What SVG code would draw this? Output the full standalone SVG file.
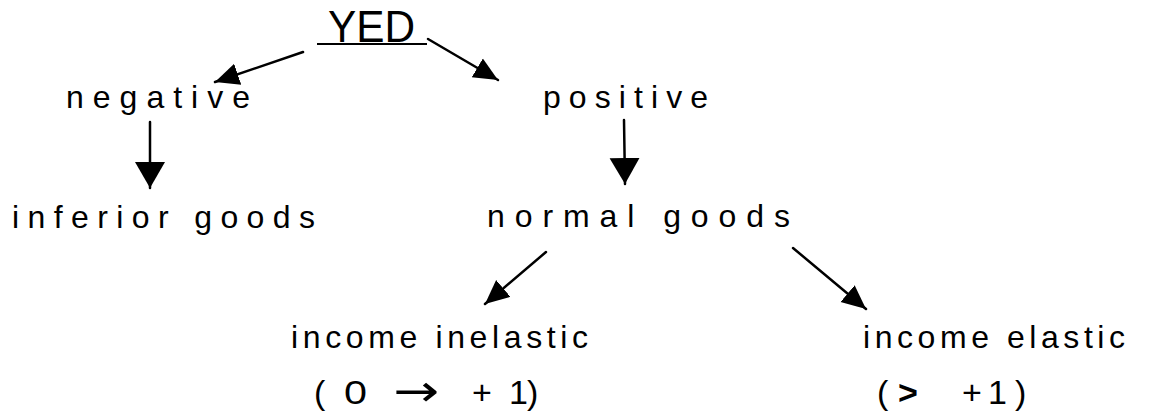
<svg xmlns="http://www.w3.org/2000/svg" width="1149" height="414" viewBox="0 0 1149 414">
<style>
  .lbl { font-family: "Liberation Sans", "DejaVu Sans", sans-serif; font-size: 32px; fill: #000; }
  .title { font-family: "Liberation Sans", "DejaVu Sans", sans-serif; font-size: 44px; fill: #000; }
  .rng { font-family: "Liberation Sans", "DejaVu Sans", sans-serif; font-size: 34px; fill: #000; }
  .conn { stroke: #000; stroke-width: 2.5; fill: none; stroke-linecap: round; }
</style>
<defs>
  <marker id="ah" markerUnits="userSpaceOnUse" markerWidth="26" markerHeight="26" refX="24" refY="12" orient="auto" viewBox="0 0 26 26">
    <path d="M0,1 L24,12 L0,23 z" fill="#000"/>
  </marker>
  <marker id="ahv" markerUnits="userSpaceOnUse" markerWidth="30" markerHeight="32" refX="26" refY="15" orient="auto" viewBox="0 0 30 32">
    <path d="M0,0 L26,15 L0,30 z" fill="#000"/>
  </marker>
</defs>
<rect width="1149" height="414" fill="#fff"/>
<g id="yed">
  <text class="title" x="328" y="42" textLength="87" lengthAdjust="spacingAndGlyphs">YED</text>
  <line x1="317" y1="44" x2="427" y2="44" stroke="#000" stroke-width="2"/>
</g>
<g id="negative"><text class="lbl" x="66" y="108" textLength="184" lengthAdjust="spacing">negative</text></g>
<g id="positive"><text class="lbl" x="543" y="108" textLength="165" lengthAdjust="spacing">positive</text></g>
<g id="inferior"><text class="lbl" x="12" y="228" textLength="303" lengthAdjust="spacing">inferior goods</text></g>
<g id="normal"><text class="lbl" x="487" y="227" textLength="303" lengthAdjust="spacing">normal goods</text></g>
<g id="inelastic">
  <text class="lbl" x="291" y="348" textLength="297" lengthAdjust="spacing">income inelastic</text>
  <text class="rng" y="404"><tspan x="314">(</tspan><tspan x="344" textLength="23" lengthAdjust="spacingAndGlyphs">0</tspan><tspan x="393" y="406" font-family="DejaVu Sans, sans-serif" font-size="44" textLength="46" lengthAdjust="spacingAndGlyphs">→</tspan><tspan x="472" y="404">+</tspan><tspan x="509">1</tspan><tspan x="527">)</tspan></text>
</g>
<g id="elastic">
  <text class="lbl" x="863" y="348" textLength="262" lengthAdjust="spacing">income elastic</text>
  <text class="rng" y="404"><tspan x="877">(</tspan><tspan x="898" font-weight="bold">&gt;</tspan><tspan x="962">+</tspan><tspan x="988">1</tspan><tspan x="1015">)</tspan></text>
</g>
<g id="connectors">
  <line class="conn" x1="303" y1="52" x2="215" y2="82" marker-end="url(#ah)"/>
  <line class="conn" x1="428" y1="39" x2="498" y2="80" marker-end="url(#ah)"/>
  <line class="conn" x1="150" y1="122" x2="150" y2="188" marker-end="url(#ahv)"/>
  <line class="conn" x1="624" y1="120" x2="625" y2="184" marker-end="url(#ahv)"/>
  <line class="conn" x1="546" y1="252" x2="485" y2="304" marker-end="url(#ah)"/>
  <line class="conn" x1="793" y1="248" x2="866" y2="309" marker-end="url(#ah)"/>
</g>
</svg>
